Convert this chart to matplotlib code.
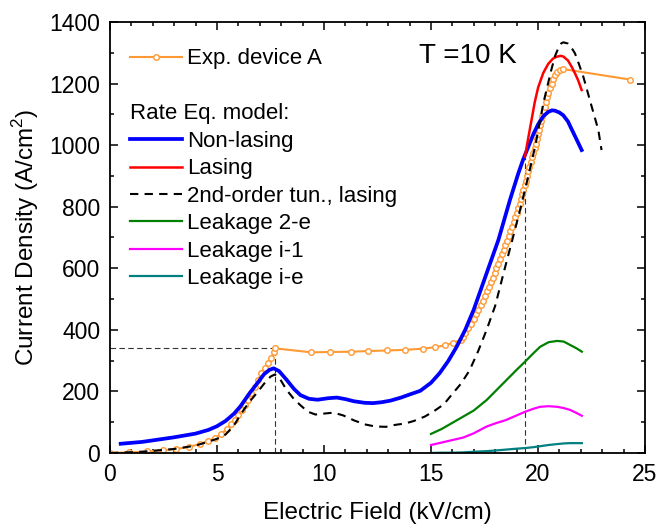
import numpy as np
import matplotlib
matplotlib.use("Agg")
import matplotlib.pyplot as plt
from matplotlib.ticker import MultipleLocator

plt.rcParams['font.family'] = ['Liberation Sans', 'DejaVu Sans']
plt.rcParams['mathtext.fontset'] = 'custom'
plt.rcParams['mathtext.rm'] = 'Liberation Sans'

# experimental J-F curve (device A)
exp_field = [0.0, 0.9, 1.75, 2.5, 3.1, 3.7, 4.2, 4.6, 4.9, 5.2, 5.45, 5.67, 5.85, 6.0,
             6.15, 6.3, 6.45, 6.6, 6.76, 6.92, 7.07, 7.23, 7.38, 7.54, 7.66, 7.7,
             9.4, 10.3, 11.25, 12.05, 12.95, 13.8, 14.65, 15.2, 15.65, 16.05, 16.4,
             16.5, 16.61, 16.74, 16.87, 17.0, 17.11, 17.21, 17.32, 17.43, 17.52, 17.61,
             17.7, 17.8, 17.89, 17.98, 18.06, 18.14, 18.22, 18.3, 18.39, 18.47, 18.55,
             18.63, 18.71, 18.79, 18.87, 18.94, 19.01, 19.07, 19.14, 19.21, 19.27, 19.32,
             19.37, 19.43, 19.48, 19.54, 19.6, 19.66, 19.72, 19.79, 19.84, 19.89, 19.94,
             19.99, 20.04, 20.09, 20.14, 20.2, 20.26, 20.31, 20.37, 20.43, 20.49, 20.56,
             20.64, 20.72, 20.79, 20.9, 21.03, 21.18, 24.3]
exp_j = [0, 2, 5, 9, 13, 20, 29, 39, 48, 62, 77, 94, 107, 123,
         140, 156, 172, 194, 215, 237, 259, 275, 291, 308, 329, 340,
         327, 328, 329, 331, 333, 335, 339, 344, 350, 358, 368,
         378, 390, 405, 420, 435, 450, 465, 480, 495, 510, 525,
         540, 555, 570, 585, 600, 615, 630, 645, 660, 675, 690,
         705, 720, 735, 750, 765, 780, 795, 810, 825, 840, 855,
         870, 885, 900, 915, 930, 945, 960, 975, 990, 1005, 1020,
         1035, 1050, 1065, 1080, 1095, 1110, 1125, 1140, 1155, 1170, 1185,
         1200, 1215, 1228, 1238, 1244, 1247, 1213]

# rate equation model: non-lasing
nl_field = [0.5, 1.5, 3.0, 4.0, 4.6, 5.0, 5.4, 5.8, 6.1, 6.5, 6.9, 7.2, 7.45, 7.65,
            7.9, 8.25, 8.6, 8.9, 9.3, 9.7, 10.2, 10.6, 11.0, 11.4, 11.9, 12.3, 12.7,
            13.1, 13.6, 14.0, 14.5, 15.0, 15.4, 15.8, 16.2, 16.6, 17.0, 17.6, 18.15,
            18.69, 19.08, 19.3, 19.55, 19.8, 20.01, 20.25, 20.48, 20.65, 20.79, 21.0,
            21.18, 21.4, 21.57, 21.8, 22.04]
nl_j = [30, 36, 51, 63, 75, 87, 104, 128, 152, 192, 228, 256, 270, 275,
        266, 238, 208, 188, 176, 173, 178, 180, 175, 168, 163, 162, 165,
        170, 180, 190, 202, 228, 259, 298, 345, 400, 466, 584, 692,
        822, 908, 952, 995, 1038, 1068, 1094, 1108, 1113, 1112, 1106,
        1097, 1077, 1052, 1019, 984]

# lasing
las_field = [19.39, 19.55, 19.7, 19.85, 20.01, 20.25, 20.48, 20.7, 20.87, 21.05, 21.18,
             21.4, 21.57, 21.75, 21.88, 22.04]
las_j = [962, 1025, 1082, 1140, 1188, 1235, 1264, 1281, 1287, 1290, 1288,
         1275, 1255, 1230, 1210, 1179]

# 2nd-order tunneling, lasing
tun_field = [0.0, 1.5, 3.0, 4.0, 4.6, 5.0, 5.4, 5.8, 6.1, 6.5, 6.9, 7.2, 7.5, 7.7,
             7.95, 8.25, 8.6, 8.9, 9.25, 9.6, 10.0, 10.45, 10.9, 11.4, 11.9, 12.4,
             12.9, 13.3, 13.8, 14.2, 14.7, 15.1, 15.6, 16.0, 16.4, 16.8, 17.2, 17.6,
             18.0, 18.45, 18.8, 19.2, 19.55, 19.88, 20.25, 20.62, 20.8, 20.95, 21.08,
             21.18, 21.4, 21.55, 21.73, 21.92, 22.12, 22.51, 22.82, 22.97]
tun_j = [0, 4, 13, 24, 37, 46, 60, 90, 125, 165, 198, 225, 248, 255,
         240, 205, 175, 155, 134, 125, 128, 131, 122, 106, 93, 86,
         85, 91, 96, 104, 118, 134, 158, 192, 225, 268, 330, 400,
         478, 600, 692, 800, 900, 1000, 1136, 1244, 1290, 1315, 1330,
         1334, 1330, 1318, 1298, 1262, 1222, 1125, 1049, 984]

# leakage channels
leak_field = [15.0, 15.5, 16.0, 16.5, 17.0, 17.6, 18.0, 18.5, 19.0, 19.4, 19.8, 20.1,
              20.5, 20.9, 21.2, 21.5, 21.8, 22.05]
leak_2e = [62, 78, 98, 118, 138, 172, 200, 235, 270, 297, 325, 345, 360, 364, 362, 351,
           340, 329]
leak_i1 = [26, 34, 42, 50, 64, 86, 96, 107, 122, 134, 144, 150, 152, 150, 146, 140,
           130, 121]
leak_ie = [0, 1, 1, 2, 4, 6, 8, 11, 14, 16, 19, 22, 26, 29, 31, 32, 32, 32]

# guide lines (thresholds)
guide1_f, guide1_j = 7.7, 340
guide2_f, guide2_j = 19.39, 962

orange = '#ff9933'

fig = plt.figure(figsize=(6.69, 5.26), dpi=100)
ax = fig.add_axes([0.1644, 0.1388, 0.7997, 0.8194])

# guides
ax.plot([0, guide1_f], [guide1_j, guide1_j], color='#333333', lw=0.8, dashes=(5, 3))
ax.plot([guide1_f, guide1_f], [0, guide1_j], color='#333333', lw=0.8, dashes=(5, 3))
ax.plot([guide2_f, guide2_f], [0, guide2_j], color='#333333', lw=0.8, dashes=(5, 3))

exp_line, = ax.plot(exp_field, exp_j, '-o', color=orange, lw=1.5, ms=4,
                    mfc='white', mec=orange, mew=1)
nl_line, = ax.plot(nl_field, nl_j, color='#0000ff', lw=2.7)
las_line, = ax.plot(las_field, las_j, color='#ff0000', lw=1.8)
tun_line, = ax.plot(tun_field, tun_j, color='black', lw=1.5, dashes=(4, 3))
l2e, = ax.plot(leak_field, leak_2e, color='#008000', lw=1.6)
li1, = ax.plot(leak_field, leak_i1, color='#ff00ff', lw=1.6)
lie, = ax.plot(leak_field, leak_ie, color='#008080', lw=1.6)

ax.set_xlim(0, 25)
ax.set_ylim(0, 1400)
ax.xaxis.set_major_locator(MultipleLocator(5))
ax.xaxis.set_minor_locator(MultipleLocator(1))
ax.yaxis.set_major_locator(MultipleLocator(200))
ax.yaxis.set_minor_locator(MultipleLocator(100))
ax.tick_params(which='both', direction='in', top=True, right=True, labelsize=16.5,
               width=1.1)
ax.tick_params(which='major', length=6, pad=7)
ax.tick_params(which='minor', length=3)
for s in ax.spines.values():
    s.set_linewidth(1.3)

ax.set_xlabel('Electric Field (kV/cm)', fontsize=17.5, labelpad=12)
ax.set_ylabel('Current Density (A/cm$^2$)', fontsize=17.5, labelpad=6)

ax.text(0.578, 0.905, 'T =10 K', transform=ax.transAxes, fontsize=20)

leg1 = ax.legend([exp_line], ['Exp. device A'], loc='upper left',
                 bbox_to_anchor=(0.037, 0.939), frameon=False, fontsize=16,
                 handlelength=2.35, handletextpad=0.22, borderpad=0, borderaxespad=0)
ax.add_artist(leg1)
leg2 = ax.legend([nl_line, las_line, tun_line, l2e, li1, lie],
                 ['Non-lasing', 'Lasing', '2nd-order tun., lasing', 'Leakage 2-e',
                  'Leakage i-1', 'Leakage i-e'],
                 title='Rate Eq. model:', title_fontsize=16, alignment='left',
                 loc='upper left', bbox_to_anchor=(0.037, 0.811), frameon=False,
                 fontsize=16, handlelength=2.35, handletextpad=0.22, borderpad=0,
                 borderaxespad=0, labelspacing=0.29)

fig.savefig('out.png', dpi=100)
